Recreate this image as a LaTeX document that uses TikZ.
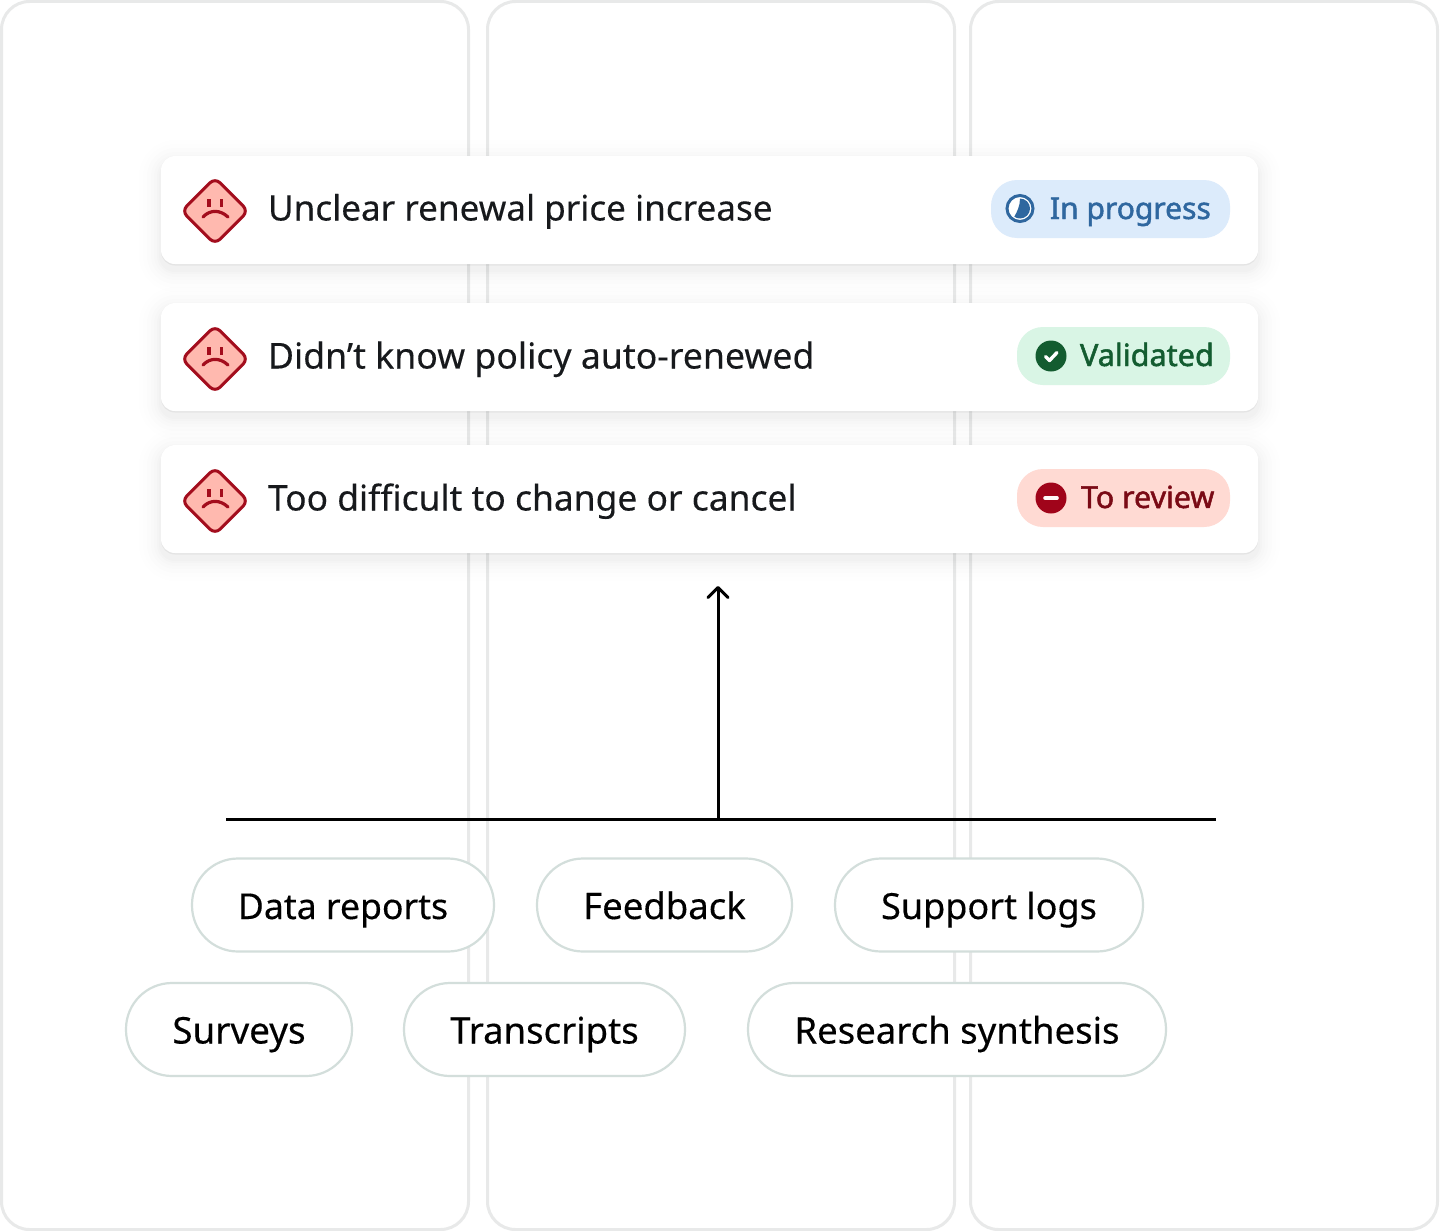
\documentclass[tikz,border=0pt]{standalone}
\usepackage{fontspec}
\setmainfont{Noto Sans}
\usetikzlibrary{arrows.meta}
\definecolor{colline}{HTML}{E8E9E9}
\definecolor{tagline}{HTML}{D3DEDB}
\definecolor{ink}{HTML}{17191C}
\definecolor{sadfill}{HTML}{FFB9AF}
\definecolor{sadline}{HTML}{A30D1D}
\definecolor{bluebg}{HTML}{DCEBFB}
\definecolor{bluefg}{HTML}{2F679F}
\definecolor{greenbg}{HTML}{D9F5E5}
\definecolor{greenfg}{HTML}{135C30}
\definecolor{redbg}{HTML}{FFDAD3}
\definecolor{redfg}{HTML}{7A0A15}
\definecolor{redicon}{HTML}{A0041A}
\newcommand{\fs}[2]{\fontsize{#1}{40}\selectfont\addfontfeatures{FakeBold=#2}}
\tikzset{
  x=1pt,y=-1pt,
  every node/.style={outer sep=0pt},
  colbox/.style={draw=colline,line width=3pt,fill=white,rounded corners=28pt,inner sep=0pt,anchor=north west,minimum width=467pt,minimum height=1228pt},
  card/.style={fill=white,rounded corners=14pt,inner sep=0pt,anchor=north west,minimum width=1097pt,minimum height=108pt},
  pill/.style={rounded corners=26pt,inner sep=0pt,anchor=north west,minimum height=58pt},
  tag/.style={draw=tagline,line width=2.2pt,fill=white,rounded corners=46pt,inner sep=0pt,anchor=north west,minimum height=93pt,text height=36pt,text depth=8pt,text=black},
  cardtext/.style={anchor=base west,inner sep=0pt,text=ink},
  pilltext/.style={anchor=base west,inner sep=0pt},
  conn/.style={draw=black,line width=3pt},
  sad/.pic={
    \path[fill=sadfill,draw=sadline,line width=3pt,line join=round,rounded corners=7pt] (0,-33.2)--(33.2,0)--(0,33.2)--(-33.2,0)--cycle;
    \draw[sadline,line width=3.2pt] (-6,-12)--(-6,-4) (6.5,-12)--(6.5,-4);
    \draw[sadline,line width=3.2pt,line cap=round] (-12,6) .. controls (-5,-1.5) and (5,-1.5) .. (13,6);
  }
}
\newcommand{\softshadow}[4]{%
  \foreach \i/\o in {22/0.004,18/0.005,14/0.006,10/0.007,7/0.008,4/0.01,2/0.012}{
    \fill[black,opacity=\o,rounded corners=14pt+\i pt] (#1-\i,#2+6-\i) rectangle (#3+\i,#4+6+\i);
  }
  \fill[black,opacity=0.05,rounded corners=14pt] (#1,#2) rectangle (#3,#4+1.5);}
\begin{document}
\begin{tikzpicture}
\useasboundingbox (0,0) rectangle (1440,1231);
\fill[white] (0,0) rectangle (1440,1231);
\node[colbox] (col1) at (1.5,1.5) {};
\node[colbox] (col2) at (487.5,1.5) {};
\node[colbox] (col3) at (970.5,1.5) {};

\softshadow{161}{156}{1258}{264}
\softshadow{161}{303}{1258}{411}
\softshadow{161}{445}{1258}{553}
\node[card] (card1) at (161,156) {};
\node[card] (card2) at (161,303) {};
\node[card] (card3) at (161,445) {};

\pic at (215,211) {sad};
\pic at (215,359) {sad};
\pic at (215,501) {sad};

\node[cardtext,font=\fs{35.1}{0.2}] (t1) at (268,220.5) {Unclear renewal price increase};
\node[cardtext,font=\fs{35.65}{0.2}] (t2) at (268,368.5) {Didn’t know policy auto-renewed};
\node[cardtext,font=\fs{35.4}{0.2}] (t3) at (268,510.5) {Too difficult to change or cancel};

\node[pill,fill=bluebg,minimum width=239pt] (p1) at (991,180) {};
\node[pill,fill=greenbg,minimum width=213pt] (p2) at (1017,327) {};
\node[pill,fill=redbg,minimum width=213pt] (p3) at (1017,469) {};

% status icons
\node[circle,draw=bluefg,line width=3pt,fill=white,minimum size=26pt,inner sep=0pt] (i1) at (1020,208.5) {};
\fill[bluefg] (1020,198.5) arc[start angle=90,end angle=-125,radius=10pt] .. controls (1017,212) and (1020,206) .. cycle;
\node[circle,fill=greenfg,minimum size=31pt,inner sep=0pt] (i2) at (1051,356) {};
\draw[white,line width=3.4pt,line cap=round,line join=round] (1045.5,356.5)--(1049.5,360.5)--(1057,352.5);
\node[circle,fill=redicon,minimum size=31pt,inner sep=0pt] (i3) at (1051,498) {};
\draw[white!85!redbg,line width=3.6pt,line cap=round] (1045,498)--(1057,498);

\node[pilltext,text=bluefg,font=\fs{30}{1.6}] (pt1) at (1050,219) {In progress};
\node[pilltext,text=greenfg,font=\fs{30.6}{1.6}] (pt2) at (1080,366) {Validated};
\node[pilltext,text=redfg,font=\fs{30.4}{1.6}] (pt3) at (1081,508) {To review};

\coordinate (busL) at (226,819.5);
\coordinate (busR) at (1216,819.5);
\coordinate (busM) at (718,819.5);
\coordinate (arrowTip) at (718,586);
\draw[conn] (busL)--(busR);
\draw[conn,-{Straight Barb[length=10pt,width=20pt,line width=3pt,round]}] (busM)--(arrowTip);

\node[tag,minimum width=302pt,font=\fs{35.6}{0.3}] (a1) at (192,858.5) {Data reports};
\node[tag,minimum width=255pt,font=\fs{36.5}{0.3}] (a2) at (537,858.5) {Feedback};
\node[tag,minimum width=308pt,font=\fs{36}{0.3}] (a3) at (835,858.5) {Support logs};
\node[tag,minimum width=226pt,font=\fs{36.8}{0.3}] (b1) at (126,983) {Surveys};
\node[tag,minimum width=281pt,font=\fs{36.5}{0.3}] (b2) at (404,983) {Transcripts};
\node[tag,minimum width=418pt,font=\fs{36.5}{0.3}] (b3) at (748,983) {Research synthesis};
\end{tikzpicture}
\end{document}
